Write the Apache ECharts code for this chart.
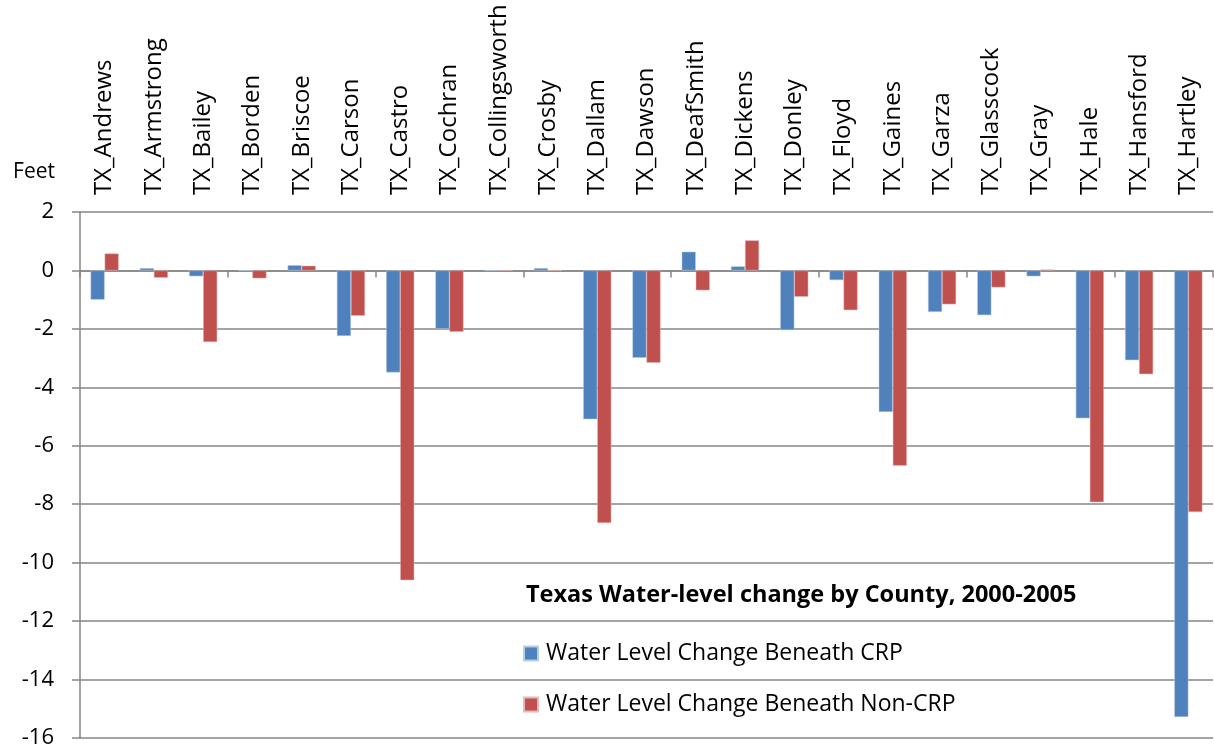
<!DOCTYPE html>
<html>
<head>
<meta charset="utf-8">
<script src="https://cdn.jsdelivr.net/npm/echarts@6/dist/echarts.min.js"></script>
<style>html,body{margin:0;padding:0;background:#fff;}#c{width:1214px;height:752px;}</style>
</head>
<body>
<div id="c"></div>
<script>
var counties = ['TX_Andrews','TX_Armstrong','TX_Bailey','TX_Borden','TX_Briscoe','TX_Carson','TX_Castro','TX_Cochran','TX_Collingsworth','TX_Crosby','TX_Dallam','TX_Dawson','TX_DeafSmith','TX_Dickens','TX_Donley','TX_Floyd','TX_Gaines','TX_Garza','TX_Glasscock','TX_Gray','TX_Hale','TX_Hansford','TX_Hartley'];
var crp = [-1.0, 0.08, -0.2, 0, 0.18, -2.24, -3.49, -2.0, 0, 0.08, -5.09, -2.99, 0.64, 0.14, -2.04, -0.33, -4.84, -1.42, -1.53, -0.2, -5.06, -3.07, -15.28];
var nonCrp = [0.58, -0.25, -2.45, -0.27, 0.16, -1.55, -10.6, -2.1, 0, 0, -8.64, -3.16, -0.68, 1.03, -0.9, -1.36, -6.68, -1.16, -0.58, 0.03, -7.93, -3.55, -8.27];
var yTicks = {min: -16, max: 2, step: 2};
var titleText = 'Texas Water-level change by County, 2000-2005';
var seriesNames = ['Water Level Change Beneath CRP', 'Water Level Change Beneath Non-CRP'];

var FONT = 'Open Sans';
var chart = echarts.init(document.getElementById('c'));
chart.setOption({
  animation: false,
  textStyle: {fontFamily: FONT},
  title: {
    text: titleText, left: 521, top: 578,
    textStyle: {fontFamily: FONT, fontWeight: 'bold', fontSize: 23.5, color: '#000'}
  },
  legend: {
    orient: 'vertical', left: 518, top: 637, itemGap: 28,
    itemWidth: 14, itemHeight: 14, icon: 'rect',
    textStyle: {fontFamily: FONT, fontSize: 23, color: '#000', padding: [0, 0, 0, 3]},
    data: seriesNames
  },
  grid: {left: 80, right: 1, top: 212, bottom: 14, containLabel: false},
  xAxis: [{
    type: 'category', data: counties, position: 'bottom',
    axisLine: {onZero: true, lineStyle: {color: '#868686', width: 1.5}},
    axisTick: {show: true, length: 7, lineStyle: {color: '#868686', width: 1.5}},
    axisLabel: {show: false}, splitLine: {show: false}
  }, {
    type: 'category', data: counties, position: 'top',
    axisLine: {show: false}, axisTick: {show: false},
    axisLabel: {rotate: -90, margin: 17, fontSize: 24, color: '#000', fontFamily: FONT, interval: 0}
  }],
  yAxis: {
    type: 'value', min: yTicks.min, max: yTicks.max, interval: yTicks.step,
    name: 'Feet', nameLocation: 'end', nameGap: 40,
    nameTextStyle: {align: 'right', verticalAlign: 'middle', padding: [0, 25, 0, 0], fontSize: 21, color: '#000', fontFamily: FONT},
    axisLine: {show: true, lineStyle: {color: '#868686', width: 1.5}},
    axisTick: {show: true, length: 8, lineStyle: {color: '#868686', width: 1.5}},
    axisLabel: {fontSize: 22, color: '#000', margin: 26, fontFamily: FONT},
    splitLine: {show: true, lineStyle: {color: '#868686', width: 1.5}}
  },
  series: [{
    name: seriesNames[0], type: 'bar', data: crp, xAxisIndex: 0,
    barGap: '0%', barCategoryGap: '43%',
    itemStyle: {color: '#4F81BD', borderColor: '#B9CDE5', borderWidth: 0.5}
  }, {
    name: seriesNames[1], type: 'bar', data: nonCrp, xAxisIndex: 0,
    barGap: '0%', barCategoryGap: '43%',
    itemStyle: {color: '#C0504D', borderColor: '#E6B9B8', borderWidth: 0.5}
  }]
});
</script>
</body>
</html>
